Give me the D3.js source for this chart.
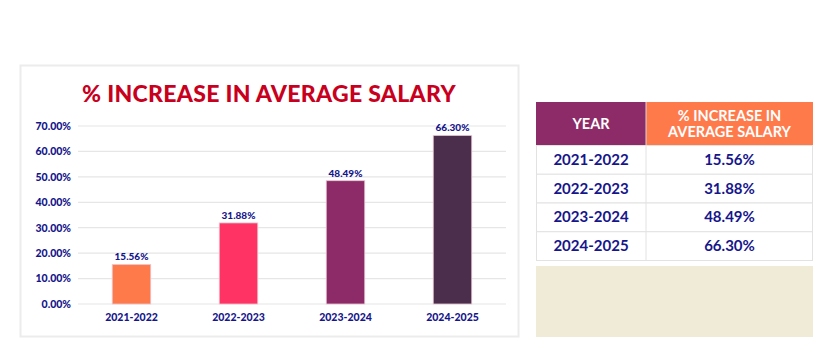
<!DOCTYPE html>
<html>
<head>
<meta charset="utf-8">
<script src="https://cdn.jsdelivr.net/npm/d3@7"></script>
<style>
  body { margin: 0; background: #fff; }
  svg { display: block; font-family: "Lato", "Open Sans", sans-serif; }
</style>
</head>
<body>
<svg id="chart" width="833" height="354"></svg>
<script>
const years = ["2021-2022", "2022-2023", "2023-2024", "2024-2025"];
const increase = [15.56, 31.88, 48.49, 66.30];
const barColors = ["#ff7a4b", "#ff3465", "#8c2b67", "#4a2e4c"];
const yTicks = [0, 10, 20, 30, 40, 50, 60, 70];
const tableHeaders = ["YEAR", "% INCREASE IN|AVERAGE SALARY"];
const headerColors = ["#8c2b67", "#ff7a4b"];

const navy = "#16168c";
const svg = d3.select("#chart");

// chart frame
svg.append("rect")
    .attr("x", 20.5).attr("y", 65.5)
    .attr("width", 498).attr("height", 271)
    .attr("fill", "#fff")
    .attr("stroke", "#ececec")
    .attr("stroke-width", 2);

svg.append("text")
    .attr("x", 269).attr("y", 101.5)
    .attr("text-anchor", "middle")
    .attr("fill", "#c8001e")
    .attr("font-size", 23)
    .attr("font-weight", 900)
    .attr("letter-spacing", 0.3)
    .text("% INCREASE IN AVERAGE SALARY");

const x = d3.scaleBand().domain(years).range([78, 506]).paddingInner(0.64).paddingOuter(0.32);
const y = d3.scaleLinear().domain([0, 70]).range([304, 126]);

// gridlines
svg.append("g")
    .selectAll("line")
    .data(yTicks)
    .join("line")
    .attr("x1", 78).attr("x2", 506)
    .attr("y1", d => y(d)).attr("y2", d => y(d))
    .attr("stroke", "#e6e6e6")
    .attr("stroke-width", 1.2);

const yAxis = svg.append("g")
    .attr("transform", "translate(71,0)")
    .call(d3.axisLeft(y).tickValues(yTicks).tickSize(0).tickPadding(0).tickFormat(d => d3.format(".2f")(d) + "%"));
yAxis.select(".domain").remove();
yAxis.selectAll("text")
    .attr("fill", navy)
    .attr("font-size", 10.5)
    .attr("font-weight", 900)
    .attr("font-family", "Lato, sans-serif");

const xAxis = svg.append("g")
    .attr("transform", "translate(0,314)")
    .call(d3.axisBottom(x).tickSize(0).tickPadding(0));
xAxis.select(".domain").remove();
xAxis.selectAll("text")
    .attr("fill", navy)
    .attr("font-size", 10.5)
    .attr("font-weight", 900)
    .attr("font-family", "Lato, sans-serif");

// bars
svg.append("g")
    .selectAll("rect")
    .data(increase)
    .join("rect")
    .attr("x", (d, i) => x(years[i]))
    .attr("y", d => y(d))
    .attr("width", x.bandwidth())
    .attr("height", d => y(0) - y(d))
    .attr("fill", (d, i) => barColors[i])
    .attr("stroke", "#e9c9d4")
    .attr("stroke-width", 0.8);

svg.append("g")
    .selectAll("text")
    .data(increase)
    .join("text")
    .attr("x", (d, i) => x(years[i]) + x.bandwidth() / 2)
    .attr("y", d => y(d) - 4)
    .attr("text-anchor", "middle")
    .attr("fill", navy)
    .attr("font-size", 10)
    .attr("font-weight", 900)
    .text(d => d.toFixed(2) + "%");

// table
const tx = [536, 646, 813];
const headTop = 102, headH = 43, rowH = 28.75;
const table = svg.append("g");

tableHeaders.forEach((h, i) => {
    table.append("rect")
        .attr("x", tx[i]).attr("y", headTop)
        .attr("width", tx[i + 1] - tx[i]).attr("height", headH)
        .attr("fill", headerColors[i]);
    const lines = h.split("|");
    lines.forEach((ln, j) => {
        table.append("text")
            .attr("x", (tx[i] + tx[i + 1]) / 2)
            .attr("y", headTop + headH / 2 + (j - (lines.length - 1) / 2) * 16 + 5)
            .attr("text-anchor", "middle")
            .attr("fill", "#fff")
            .attr("font-size", 14.5)
            .attr("font-weight", 700)
            .text(ln);
    });
});

const rows = table.selectAll("g.row")
    .data(years)
    .join("g")
    .attr("class", "row")
    .attr("transform", (d, i) => `translate(0,${headTop + headH + i * rowH})`);

rows.append("rect")
    .attr("x", tx[0] + 0.5).attr("y", 0.5)
    .attr("width", tx[2] - tx[0] - 1).attr("height", rowH)
    .attr("fill", "#fff")
    .attr("stroke", "#e2e2e2");

rows.append("line")
    .attr("x1", tx[1]).attr("x2", tx[1])
    .attr("y1", 0).attr("y2", rowH)
    .attr("stroke", "#e2e2e2");

rows.append("text")
    .attr("x", (tx[0] + tx[1]) / 2)
    .attr("y", rowH / 2 + 5.5)
    .attr("text-anchor", "middle")
    .attr("fill", navy)
    .attr("font-size", 15)
    .attr("font-weight", 700)
    .text(d => d);

rows.append("text")
    .attr("x", (tx[1] + tx[2]) / 2)
    .attr("y", rowH / 2 + 5.5)
    .attr("text-anchor", "middle")
    .attr("fill", navy)
    .attr("font-size", 15)
    .attr("font-weight", 700)
    .text((d, i) => increase[i].toFixed(2) + "%");

table.append("line")
    .attr("x1", tx[1]).attr("x2", tx[1])
    .attr("y1", headTop).attr("y2", headTop + headH)
    .attr("stroke", "#d8d8d8");

svg.append("rect")
    .attr("x", 536).attr("y", 266)
    .attr("width", 277).attr("height", 71)
    .attr("fill", "#f0ebd7");
</script>
</body>
</html>
